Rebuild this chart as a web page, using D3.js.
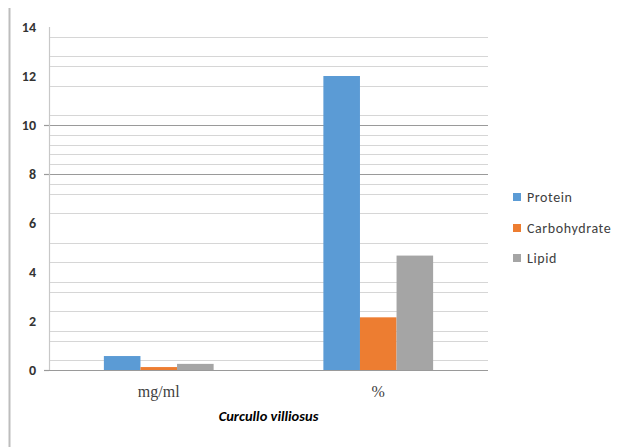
<!DOCTYPE html>
<html><head><meta charset="utf-8">
<script src="https://cdn.jsdelivr.net/npm/d3@7"></script>
<style>
body{margin:0;background:#fff;}
svg{display:block;}
text{font-family:Carlito,Lato,"Liberation Sans",sans-serif;}
</style></head>
<body><svg id="c" width="617" height="447"></svg>
<script>
const categories = ["mg/ml", "%"];
const seriesNames = ["Protein", "Carbohydrate", "Lipid"];
const protein = [0.57, 12.0];
const carbohydrate = [0.12, 2.15];
const lipid = [0.25, 4.67];
const yTicks = [0, 2, 4, 6, 8, 10, 12, 14];
const gridValues = [0.4, 1.2, 1.6, 2.4, 3.2, 3.6, 4.4, 5.2, 6.4, 7.2, 7.6, 8, 8.4, 8.8, 9.2, 9.6, 10, 10.4, 11.6, 12.4, 12.8, 13.6];
const majorGrid = [8, 10];
const title = "Curcullo villiosus";
const colors = ["#5B9BD5", "#ED7D31", "#A5A5A5"];

const svg = d3.select("#c");
const L = 49, R = 488, T = 27, B = 370;

svg.append("line").attr("x1", 9.5).attr("x2", 9.5).attr("y1", 8).attr("y2", 447)
  .attr("stroke", "#bdbdbd").attr("stroke-width", 2);

const y = d3.scaleLinear().domain([0, 14]).range([B, T]);
const x0 = d3.scaleBand().domain(categories).range([L, R]).paddingInner(0.5).paddingOuter(0.25);
const x1 = d3.scaleBand().domain(seriesNames).range([0, x0.bandwidth()]);

svg.append("g").selectAll("line").data(gridValues).join("line")
  .attr("x1", L).attr("x2", R)
  .attr("y1", d => Math.round(y(d)) + 0.5).attr("y2", d => Math.round(y(d)) + 0.5)
  .attr("stroke", d => majorGrid.includes(d) ? "#9a9a9a" : "#d6d6d6")
  .attr("stroke-width", 1.2);
svg.append("g").selectAll("line").data([0, 8, 10]).join("line")
  .attr("x1", L - 5).attr("x2", L)
  .attr("y1", d => Math.round(y(d)) + 0.5).attr("y2", d => Math.round(y(d)) + 0.5)
  .attr("stroke", "#9a9a9a").attr("stroke-width", 1.2);

svg.append("line").attr("x1", L + 0.5).attr("x2", L + 0.5).attr("y1", T).attr("y2", B)
  .attr("stroke", "#c8c8c8").attr("stroke-width", 1.2);

svg.append("g").selectAll("text").data(yTicks).join("text")
  .attr("x", 36).attr("y", d => y(d)).attr("dy", "0.35em")
  .attr("text-anchor", "end").attr("font-size", 14).attr("fill", "#333")
  .attr("font-weight", 600)
  .text(d => d);

const series = [protein, carbohydrate, lipid];
const g = svg.append("g");
categories.forEach((c, ci) => {
  seriesNames.forEach((s, si) => {
    const v = series[si][ci];
    g.append("rect")
      .attr("x", x0(c) + x1(s)).attr("width", x1.bandwidth())
      .attr("y", y(v)).attr("height", y(0) - y(v))
      .attr("fill", colors[si]);
  });
});

svg.append("line").attr("x1", L).attr("x2", R).attr("y1", B + 0.5).attr("y2", B + 0.5)
  .attr("stroke", "#9a9a9a").attr("stroke-width", 1.2);

svg.append("g").selectAll("text").data(categories).join("text")
  .attr("x", d => x0(d) + x0.bandwidth() / 2).attr("y", 397)
  .attr("text-anchor", "middle").attr("font-size", 16).attr("fill", "#404040")
  .style("font-family", "'Liberation Serif',serif")
  .text(d => d);

svg.append("text").attr("x", (L + R) / 2).attr("y", 421)
  .attr("text-anchor", "middle").attr("font-size", 14.5)
  .attr("font-weight", "bold").attr("font-style", "italic").attr("fill", "#000")
  .text(title);

const leg = svg.append("g").selectAll("g").data(seriesNames).join("g")
  .attr("transform", (d, i) => `translate(513,${[197, 228, 258][i]})`);
leg.append("rect").attr("x", 0).attr("y", -4).attr("width", 8).attr("height", 8)
  .attr("fill", (d, i) => colors[i]);
leg.append("text").attr("x", 14).attr("y", 0).attr("dy", "0.35em")
  .attr("font-size", 14).attr("letter-spacing", 0.6).attr("fill", "#404040").text(d => d);
</script></body></html>
